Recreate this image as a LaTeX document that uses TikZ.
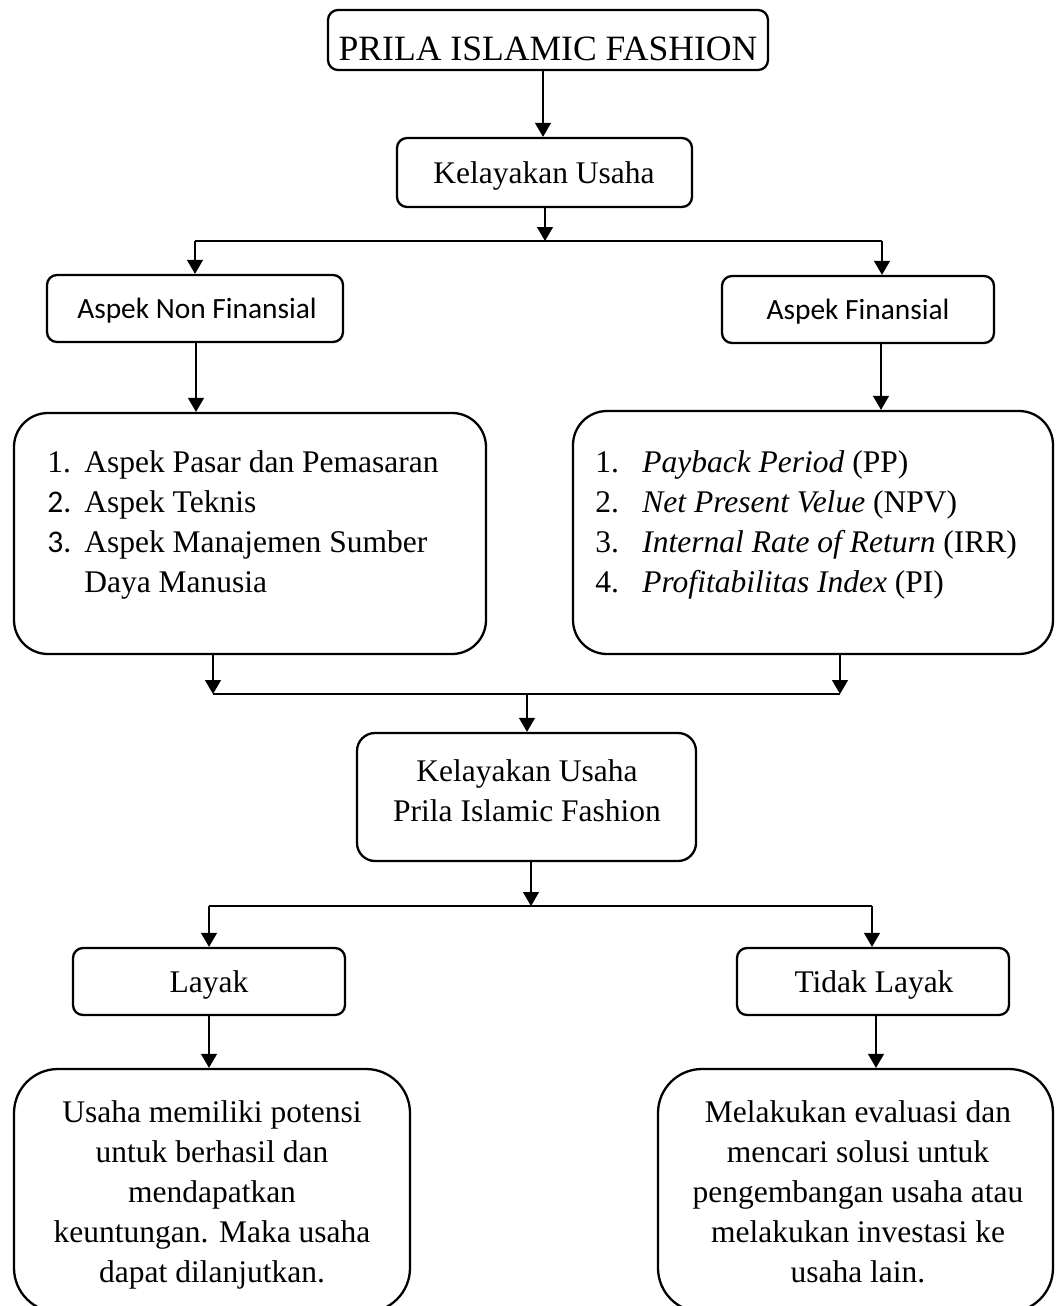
\documentclass[tikz,border=0pt]{standalone}
\usepackage{fontspec}
\setmainfont{Liberation Serif}
\newfontfamily\calfont{Carlito}
\usetikzlibrary{arrows.meta}
\newcommand\mainsize{\fontsize{15.75pt}{20pt}\selectfont}
\newcommand\topsize{\fontsize{17.8pt}{22pt}\selectfont}
\newcommand\calsize{\fontsize{14.7pt}{18pt}\selectfont}
\begin{document}
\begin{tikzpicture}[x=0.5pt,y=-0.5pt,
  box/.style={draw, line width=1.15pt, inner sep=0pt},
  smallbox/.style={box, rounded corners=5pt},
  bigbox/.style={box, rounded corners=17pt},
  txt/.style={inner sep=0pt, anchor=base, font=\mainsize},
  conn/.style={line width=0.6pt, -{Triangle[width=8pt,length=7pt]}},
  fork/.style={line width=0.6pt}]
\useasboundingbox (0,0) rectangle (1055,1306);
% boxes
\node[smallbox, minimum width=220pt, minimum height=30pt] (top) at (548,40) {};
\node[smallbox, minimum width=147.5pt, minimum height=34.5pt] (ku) at (544.5,172.5) {};
\node[smallbox, minimum width=148pt, minimum height=33.5pt] (nf) at (195,308.5) {};
\node[smallbox, minimum width=136pt, minimum height=33.5pt] (fin) at (858,309.5) {};
\node[bigbox, minimum width=236pt, minimum height=120.5pt] (nflist) at (250,533.5) {};
\node[bigbox, minimum width=240pt, minimum height=121.5pt] (finlist) at (813,532.5) {};
\node[box, rounded corners=9pt, minimum width=169.5pt, minimum height=64pt] (kup) at (526.5,797) {};
\node[smallbox, minimum width=136pt, minimum height=33.5pt] (layak) at (209,981.5) {};
\node[smallbox, minimum width=136pt, minimum height=33.5pt] (tidak) at (873,981.5) {};
\node[box, rounded corners=22pt, minimum width=198pt, minimum height=121.5pt] (res1) at (212,1190.5) {};
\node[box, rounded corners=22pt, minimum width=197.5pt, minimum height=121.5pt] (res2) at (855.5,1190.5) {};
% texts
\node[txt, font=\topsize] (t-top) at (548,61) {PRILA ISLAMIC FASHION};
\node[txt] (t-ku) at (544,183) {Kelayakan Usaha};
\node[txt, font=\calfont\calsize] (t-nf) at (197,318) {Aspek Non Finansial};
\node[txt, font=\calfont\calsize] (t-fin) at (858,319) {Aspek Finansial};
\node[txt, anchor=base west] (t-nflist) at (47,472) {\begin{tabular}[t]{@{}p{18.5pt}@{}l@{}}
1. & Aspek Pasar dan Pemasaran\\
{\calfont 2.} & Aspek Teknis\\
{\calfont 3.} & Aspek Manajemen Sumber\\
 & Daya Manusia
\end{tabular}};
\node[txt, anchor=base west] (t-finlist) at (595,472.5) {\begin{tabular}[t]{@{}p{23.5pt}@{}l@{}}
1. & \textit{Payback Period} (PP)\\
2. & \textit{Net Present Velue} (NPV)\\
3. & \textit{Internal Rate of Return} (IRR)\\
4. & \textit{Profitabilitas Index} (PI)
\end{tabular}};
\node[txt] (t-kup) at (527,781) {\begin{tabular}[t]{@{}c@{}}Kelayakan Usaha\\Prila Islamic Fashion\end{tabular}};
\node[txt] (t-layak) at (209,992) {Layak};
\node[txt] (t-tidak) at (874,992) {Tidak Layak};
\node[txt] (t-res1) at (212,1122) {\begin{tabular}[t]{@{}c@{}}Usaha memiliki potensi\\untuk berhasil dan\\mendapatkan\\keuntungan. Maka usaha\\dapat dilanjutkan.\end{tabular}};
\node[txt] (t-res2) at (858,1122) {\begin{tabular}[t]{@{}c@{}}Melakukan evaluasi dan\\mencari solusi untuk\\pengembangan usaha atau\\melakukan investasi ke\\usaha lain.\end{tabular}};
% junctions
\coordinate (j1) at (545,241);
\coordinate (j1L) at (195,241);
\coordinate (j1R) at (882,241);
\coordinate (j2L) at (213,694);
\coordinate (j2R) at (840,694);
\coordinate (j2M) at (527,694);
\coordinate (j3) at (531,906);
\coordinate (j3L) at (209,906);
\coordinate (j3R) at (872,906);
% connectors
\draw[conn] (top.south -| 543,0) -- (ku.north -| 543,0);
\draw[conn] (ku.south -| j1) -- (j1);
\draw[fork] (j1L) -- (j1R);
\draw[conn] (j1L) -- (nf.north -| j1L);
\draw[conn] (j1R) -- (fin.north -| j1R);
\draw[conn] (nf.south -| 196,0) -- (nflist.north -| 196,0);
\draw[conn] (fin.south -| 881,0) -- (finlist.north -| 881,0);
\draw[conn] (nflist.south -| j2L) -- (j2L);
\draw[conn] (finlist.south -| j2R) -- (j2R);
\draw[fork] (j2L) -- (j2R);
\draw[conn] (j2M) -- (kup.north -| j2M);
\draw[conn] (kup.south -| j3) -- (j3);
\draw[fork] (j3L) -- (j3R);
\draw[conn] (j3L) -- (layak.north -| j3L);
\draw[conn] (j3R) -- (tidak.north -| j3R);
\draw[conn] (layak.south -| 209,0) -- (res1.north -| 209,0);
\draw[conn] (tidak.south -| 876,0) -- (res2.north -| 876,0);
\end{tikzpicture}
\end{document}
